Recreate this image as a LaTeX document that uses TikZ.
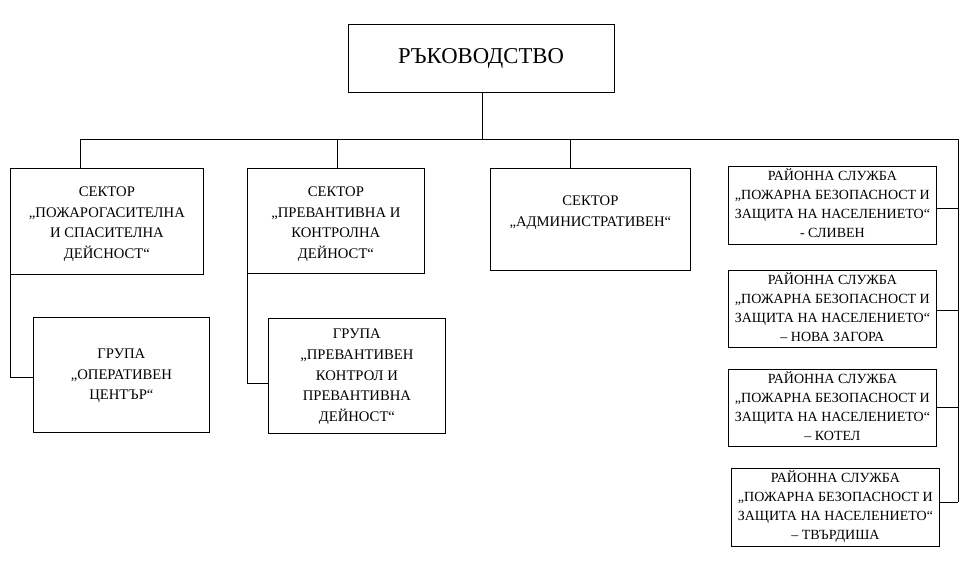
\documentclass[tikz,border=0pt]{standalone}
\usepackage{fontspec}
\setmainfont{Liberation Serif}
\newcommand{\ml}[1]{\begin{tabular}{@{}c@{}}#1\end{tabular}}
\begin{document}
\begin{tikzpicture}[x=0.75pt,y=-0.75pt,
  box/.style={draw,line width=0.6pt,inner sep=0pt,font=\fontsize{11}{15.5}\selectfont,align=center},
  rbox/.style={box,font=\fontsize{10.5}{14.3}\selectfont,minimum width=208*0.75pt,minimum height=78*0.75pt,anchor=north west},
  tl/.style={label={[anchor=north,yshift=-7pt,font=\fontsize{11}{15.5}\selectfont]north:#1}},
  ln/.style={line width=0.6pt}]
\useasboundingbox (0,0) rectangle (971,564);
\node[box,minimum width=266*0.75pt,minimum height=68*0.75pt,font=\fontsize{17}{20}\selectfont] (top) at (481,58) {РЪКОВОДСТВО};
\node[box,minimum width=193*0.75pt,minimum height=106*0.75pt,anchor=north west,tl={\ml{СЕКТОР\\„ПОЖАРОГАСИТЕЛНА\\И СПАСИТЕЛНА\\ДЕЙСНОСТ“}}] (s1) at (10,168) {};
\node[box,minimum width=177*0.75pt,minimum height=105*0.75pt,anchor=north west,tl={\ml{СЕКТОР\\„ПРЕВАНТИВНА И\\КОНТРОЛНА\\ДЕЙНОСТ“}}] (s2) at (247,168) {};
\node[box,minimum width=200*0.75pt,minimum height=102*0.75pt,anchor=north west,label={[anchor=north,yshift=-14pt,font=\fontsize{11}{15.5}\selectfont]north:\ml{СЕКТОР\\„АДМИНИСТРАТИВЕН“}}] (s3) at (490,168) {};
\node[box,minimum width=176*0.75pt,minimum height=115*0.75pt,anchor=north west] (g1) at (33,317) {\raisebox{4pt}{\ml{ГРУПА\\„ОПЕРАТИВЕН\\ЦЕНТЪР“}}};
\node[box,minimum width=177*0.75pt,minimum height=115*0.75pt,anchor=north west] (g2) at (268,318) {\ml{ГРУПА\\„ПРЕВАНТИВЕН\\КОНТРОЛ И\\ПРЕВАНТИВНА\\ДЕЙНОСТ“}};
\node[rbox] (r1) at (728,166) {\ml{РАЙОННА СЛУЖБА\\„ПОЖАРНА БЕЗОПАСНОСТ И\\ЗАЩИТА НА НАСЕЛЕНИЕТО“\\- СЛИВЕН}};
\node[rbox,minimum height=77*0.75pt] (r2) at (728,270) {\ml{РАЙОННА СЛУЖБА\\„ПОЖАРНА БЕЗОПАСНОСТ И\\ЗАЩИТА НА НАСЕЛЕНИЕТО“\\– НОВА ЗАГОРА}};
\node[rbox,minimum height=77*0.75pt] (r3) at (728,369) {\ml{РАЙОННА СЛУЖБА\\„ПОЖАРНА БЕЗОПАСНОСТ И\\ЗАЩИТА НА НАСЕЛЕНИЕТО“\\– КОТЕЛ}};
\node[rbox] (r4) at (731,468) {\ml{РАЙОННА СЛУЖБА\\„ПОЖАРНА БЕЗОПАСНОСТ И\\ЗАЩИТА НА НАСЕЛЕНИЕТО“\\– ТВЪРДИША}};
\coordinate (j) at (482,139);
\coordinate (jl) at (80,139);
\coordinate (jr) at (958,139);
\coordinate (jb) at (958,502);
\draw[ln] (top.south -| j) -- (j);
\draw[ln] (jl) -- (jr) -- (jb);
\draw[ln] (jl) -- (s1.north -| jl);
\draw[ln] (337,139) -- (s2.north -| 337,0);
\draw[ln] (570,139) -- (s3.north -| 570,0);
\draw[ln] (10,257) -- (10,377) -- (g1.west |- 0,377);
\draw[ln] (s2.south west) -- (247,383) -- (g2.west |- 0,383);
\draw[ln] (r1.east |- 0,208) -- (958,208);
\draw[ln] (r2.east |- 0,310) -- (958,310);
\draw[ln] (r3.east |- 0,407) -- (958,407);
\draw[ln] (r4.east |- 0,502) -- (jb);
\end{tikzpicture}
\end{document}
